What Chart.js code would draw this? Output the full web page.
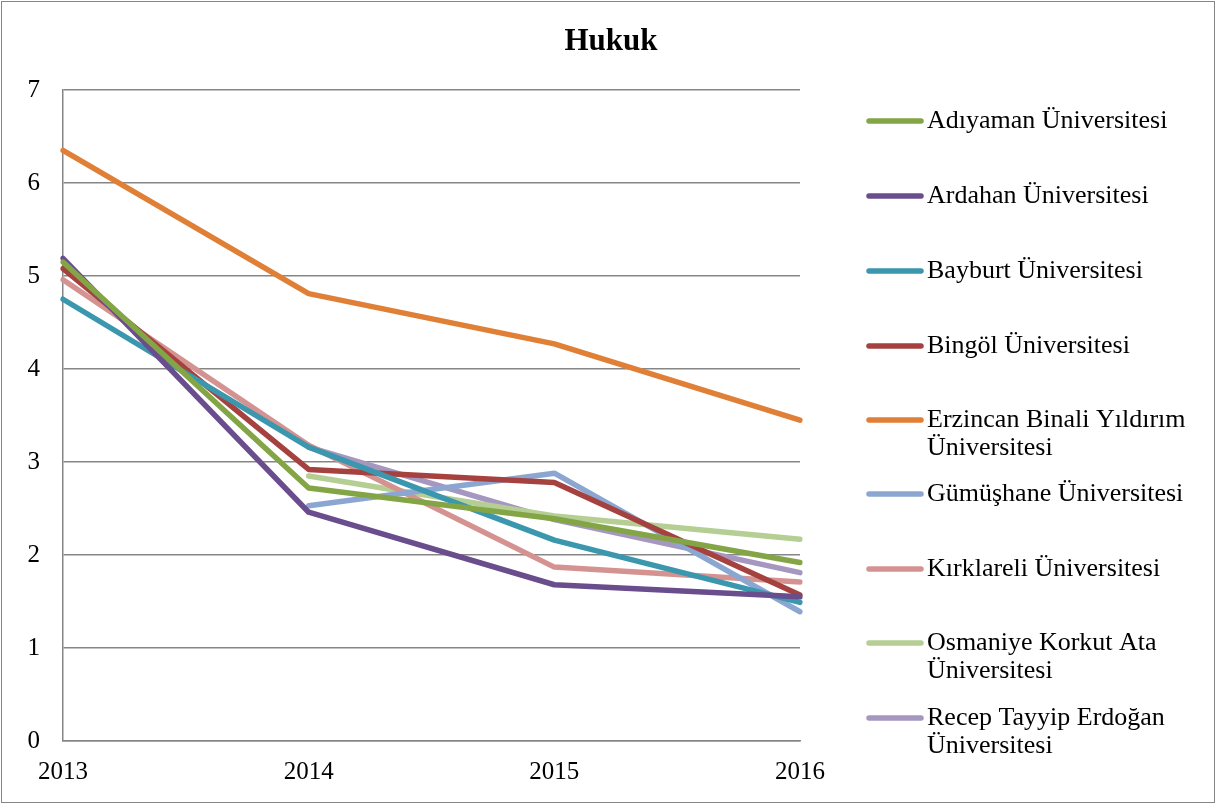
<!DOCTYPE html>
<html><head><meta charset="utf-8">
<script src="https://cdn.jsdelivr.net/npm/chart.js@4"></script>
<style>html,body{margin:0;padding:0;background:#fff}#wrap{width:1217px;height:805px}</style>
</head><body><div id="wrap"><canvas id="c" width="1217" height="805"></canvas></div>
<script>
const years = ['2013','2014','2015','2016'];
const adiyaman   = [5.15, 2.72, 2.39, 1.92];
const ardahan    = [5.19, 2.46, 1.68, 1.55];
const bayburt    = [4.75, 3.16, 2.16, 1.49];
const bingol     = [5.08, 2.92, 2.78, 1.57];
const erzincan   = [6.35, 4.81, 4.27, 3.45];
const gumushane  = [null, 2.53, 2.88, 1.39];
const kirklareli = [4.96, 3.18, 1.87, 1.71];
const osmaniye   = [null, 2.85, 2.42, 2.17];
const recep      = [null, 3.16, 2.38, 1.81];
const yTicks = [0,1,2,3,4,5,6,7];
const seriesNames = [
  ['Adıyaman Üniversitesi'],
  ['Ardahan Üniversitesi'],
  ['Bayburt Üniversitesi'],
  ['Bingöl Üniversitesi'],
  ['Erzincan Binali Yıldırım','Üniversitesi'],
  ['Gümüşhane Üniversitesi'],
  ['Kırklareli Üniversitesi'],
  ['Osmaniye Korkut Ata','Üniversitesi'],
  ['Recep Tayyip Erdoğan','Üniversitesi']
];
const colors = ['#84A546','#6A4D8C','#3A97AE','#A5423F','#E07F36','#8CA6D2','#D49391','#B5CE93','#A597C0'];
const values = [adiyaman, ardahan, bayburt, bingol, erzincan, gumushane, kirklareli, osmaniye, recep];
const FONT = '"Liberation Serif","Times New Roman",serif';

const datasets = values.map((v,i)=>({
  label: seriesNames[i].join(' '),
  data: v,
  borderColor: colors[i],
  backgroundColor: colors[i],
  borderWidth: 5.5,
  pointRadius: 0,
  borderCapStyle: 'round',
  borderJoinStyle: 'round',
  tension: 0,
  fill: false
}));
const decor = {
  id: 'decor',
  beforeDraw(chart){
    const ctx = chart.ctx;
    ctx.save();
    ctx.fillStyle = '#fff';
    ctx.fillRect(0,0,chart.width,chart.height);
    ctx.strokeStyle = '#868686';
    ctx.lineWidth = 1;
    ctx.strokeRect(1.5,1.5,chart.width-4,chart.height-4);
    ctx.restore();
  },
  afterDraw(chart){
    const ctx = chart.ctx;
    ctx.save();
    ctx.fillStyle = '#000';
    ctx.font = 'bold 31px ' + FONT;
    ctx.textAlign = 'center';
    ctx.textBaseline = 'alphabetic';
    ctx.fillText('Hukuk', 611, 50);
    ctx.font = '26px ' + FONT;
    ctx.textAlign = 'left';
    ctx.textBaseline = 'middle';
    const rows = [121,196,271,346,420,494,569,643,718];
    chart.data.datasets.forEach((ds,i)=>{
      const y = rows[i];
      ctx.strokeStyle = ds.borderColor;
      ctx.lineWidth = 5.5;
      ctx.lineCap = 'round';
      ctx.beginPath(); ctx.moveTo(869,y); ctx.lineTo(921,y); ctx.stroke();
      seriesNames[i].forEach((t,k)=>{
        ctx.fillText(t, 927, y + k*28);
      });
    });
    ctx.restore();
  }
};
new Chart(document.getElementById('c'), {
  type: 'line',
  data: { labels: years, datasets },
  options: {
    responsive: false,
    animation: false,
    layout: { padding: { left: 0, right: 417, top: 90, bottom: 0 } },
    plugins: { legend: { display: false }, title: { display: false }, tooltip: { enabled: false } },
    scales: {
      x: {
        offset: false,
        grid: { display: false, drawTicks: false },
        border: { display: true, color: '#868686', width: 1.5 },
        ticks: { color: '#000', font: { family: FONT, size: 25 }, padding: 16, maxRotation: 0, autoSkip: false },
        afterFit(s){ s.height = 64; }
      },
      y: {
        min: 0, max: 7,
        afterBuildTicks(s){ s.ticks = yTicks.map(v=>({value:v})); },
        grid: { color: '#868686', lineWidth: 1.5, drawTicks: false },
        border: { display: true, color: '#868686', width: 1.5 },
        ticks: { color: '#000', font: { family: FONT, size: 25 }, padding: 23 },
        afterFit(s){ s.width = 63; }
      }
    }
  },
  plugins: [decor]
});
</script></body></html>
